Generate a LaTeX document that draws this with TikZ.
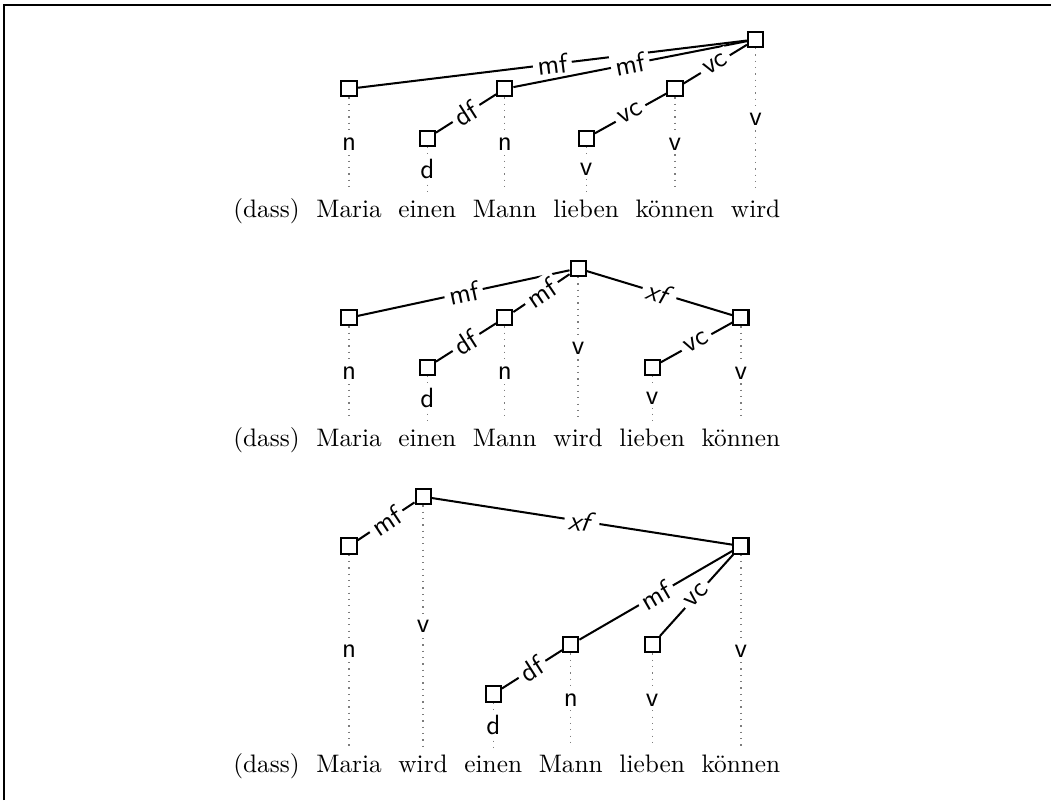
\documentclass[tikz,border=0pt]{standalone}
\usepackage{fontspec}
\usepackage{tikz}
\usetikzlibrary{
  positioning
}
\definecolor{ProjGray}{RGB}{125, 125, 125}
\tikzset{
    word/.style={inner sep=3.1pt},
    box/.style={draw, thick, fill=white, minimum size=6pt, inner sep=0pt},
    dep/.style={thick},
    lab/.style={font=\fontsize{11}{13}\selectfont\sffamily, text=black, fill=white, inner sep=1.8pt, sloped, pos=0.5},
    proj/.style={dotted, line width=0.5pt, ProjGray},
    attr/.style={font=\fontsize{11}{13}\selectfont\sffamily, text=black, fill=white, inner sep=1.5pt, pos=0.5},
    frame/.style={thick}
}

\begin{document}
\begin{tikzpicture}
    \useasboundingbox (0,0) rectangle (415.4pt,-316.2pt);
    \draw[frame] (1.5pt,-316.2pt) |- (415.4pt,-2pt);

    % first sentence
    \node[word, anchor=base west] (w1a) at (88.9pt,-85.8pt) {(dass)};
    \node[word, base right=0pt of w1a] (w1maria) {Maria};
    \node[word, base right=0pt of w1maria] (w1einen) {einen};
    \node[word, base right=0pt of w1einen] (w1mann) {Mann};
    \node[word, base right=0pt of w1mann] (w1lieben) {lieben};
    \node[word, base right=0pt of w1lieben] (w1koennen) {können};
    \node[word, base right=0pt of w1koennen] (w1wird) {wird};

    \node[box] (b1maria) at ([yshift=50.7pt]w1maria.base) {};
    \node[box] (b1einen) at ([yshift=31.2pt]w1einen.base) {};
    \node[box] (b1mann) at ([yshift=50.7pt]w1mann.base) {};
    \node[box] (b1lieben) at ([yshift=31.2pt]w1lieben.base) {};
    \node[box] (b1koennen) at ([yshift=50.7pt]w1koennen.base) {};
    \node[box] (b1wird) at ([yshift=70.2pt]w1wird.base) {};

    \draw[proj] (b1maria) -- node[attr] {n} (w1maria);
    \draw[proj] (b1einen) -- node[attr] {d} (w1einen);
    \draw[proj] (b1mann) -- node[attr] {n} (w1mann);
    \draw[proj] (b1lieben) -- node[attr] {v} (w1lieben);
    \draw[proj] (b1koennen) -- node[attr] {v} (w1koennen);
    \draw[proj] (b1wird) -- node[attr] {v} (w1wird);

    \draw[dep] (b1wird) -- node[lab] {mf} (b1maria);
    \draw[dep] (b1wird) -- node[lab] {mf} (b1mann);
    \draw[dep] (b1mann) -- node[lab] {df} (b1einen);
    \draw[dep] (b1wird) -- node[lab] {vc} (b1koennen);
    \draw[dep] (b1koennen) -- node[lab] {vc} (b1lieben);

    % second sentence
    \node[word, anchor=base west] (w2a) at (88.9pt,-176.3pt) {(dass)};
    \node[word, base right=0pt of w2a] (w2maria) {Maria};
    \node[word, base right=0pt of w2maria] (w2einen) {einen};
    \node[word, base right=0pt of w2einen] (w2mann) {Mann};
    \node[word, base right=0pt of w2mann] (w2wird) {wird};
    \node[word, base right=0pt of w2wird] (w2lieben) {lieben};
    \node[word, base right=0pt of w2lieben] (w2koennen) {können};

    \node[box] (b2maria) at ([yshift=50.7pt]w2maria.base) {};
    \node[box] (b2einen) at ([yshift=31.2pt]w2einen.base) {};
    \node[box] (b2mann) at ([yshift=50.7pt]w2mann.base) {};
    \node[box] (b2wird) at ([yshift=70.2pt]w2wird.base) {};
    \node[box] (b2lieben) at ([yshift=31.2pt]w2lieben.base) {};
    \node[box] (b2koennen) at ([yshift=50.7pt]w2koennen.base) {};

    \draw[proj] (b2maria) -- node[attr] {n} (w2maria);
    \draw[proj] (b2einen) -- node[attr] {d} (w2einen);
    \draw[proj] (b2mann) -- node[attr] {n} (w2mann);
    \draw[proj] (b2wird) -- node[attr] {v} (w2wird);
    \draw[proj] (b2lieben) -- node[attr] {v} (w2lieben);
    \draw[proj] (b2koennen) -- node[attr] {v} (w2koennen);

    \draw[dep] (b2wird) -- node[lab] {mf} (b2maria);
    \draw[dep] (b2wird) -- node[lab] {mf} (b2mann);
    \draw[dep] (b2mann) -- node[lab] {df} (b2einen);
    \draw[dep] (b2wird) -- node[lab] {\textsl{xf}} (b2koennen);
    \draw[dep] (b2koennen) -- node[lab] {vc} (b2lieben);

    % third sentence
    \node[word, anchor=base west] (w3a) at (88.9pt,-305.5pt) {(dass)};
    \node[word, base right=0pt of w3a] (w3maria) {Maria};
    \node[word, base right=0pt of w3maria] (w3wird) {wird};
    \node[word, base right=0pt of w3wird] (w3einen) {einen};
    \node[word, base right=0pt of w3einen] (w3mann) {Mann};
    \node[word, base right=0pt of w3mann] (w3lieben) {lieben};
    \node[word, base right=0pt of w3lieben] (w3koennen) {können};

    \node[box] (b3maria) at ([yshift=89.7pt]w3maria.base) {};
    \node[box] (b3wird) at ([yshift=109.2pt]w3wird.base) {};
    \node[box] (b3einen) at ([yshift=31.2pt]w3einen.base) {};
    \node[box] (b3mann) at ([yshift=50.7pt]w3mann.base) {};
    \node[box] (b3lieben) at ([yshift=50.7pt]w3lieben.base) {};
    \node[box] (b3koennen) at ([yshift=89.7pt]w3koennen.base) {};

    \draw[proj] (b3maria) -- node[attr] {n} (w3maria);
    \draw[proj] (b3wird) -- node[attr] {v} (w3wird);
    \draw[proj] (b3einen) -- node[attr] {d} (w3einen);
    \draw[proj] (b3mann) -- node[attr] {n} (w3mann);
    \draw[proj] (b3lieben) -- node[attr] {v} (w3lieben);
    \draw[proj] (b3koennen) -- node[attr] {v} (w3koennen);

    \draw[dep] (b3wird) -- node[lab] {mf} (b3maria);
    \draw[dep] (b3wird) -- node[lab] {\textsl{xf}} (b3koennen);
    \draw[dep] (b3koennen) -- node[lab] {mf} (b3mann);
    \draw[dep] (b3mann) -- node[lab] {df} (b3einen);
    \draw[dep] (b3koennen) -- node[lab] {vc} (b3lieben);
\end{tikzpicture}
\end{document}
